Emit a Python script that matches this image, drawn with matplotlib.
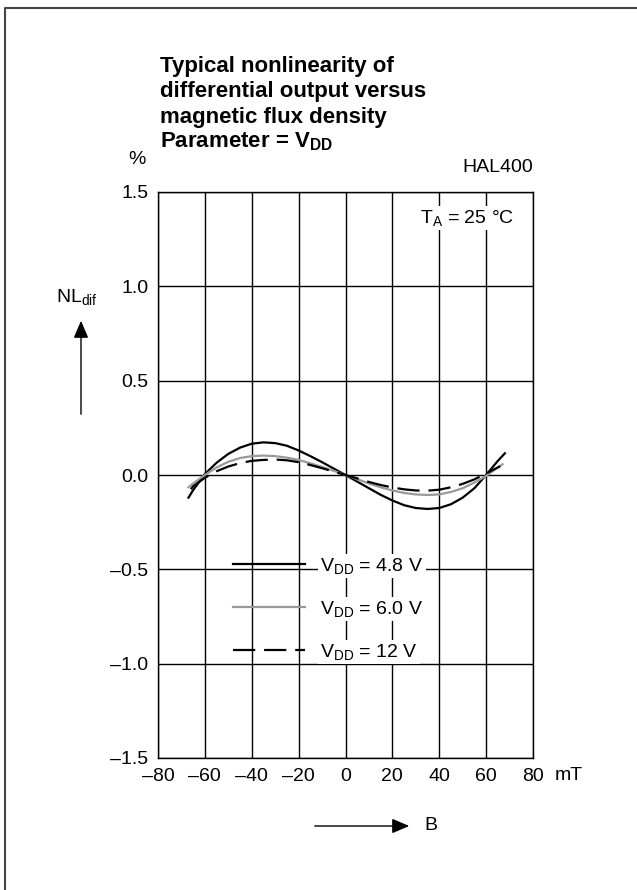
import matplotlib
matplotlib.use("Agg")
import matplotlib.pyplot as plt
import matplotlib.patches as patches
from matplotlib.lines import Line2D
from matplotlib.ticker import FuncFormatter

plt.rcParams.update({'font.family': 'Liberation Sans'})
plt.rcParams.update({'font.size': 14})
plt.rcParams.update({'mathtext.fontset': 'custom'})
plt.rcParams.update({'mathtext.rm': 'Liberation Sans'})
plt.rcParams.update({'mathtext.it': 'Liberation Sans:italic'})
plt.rcParams.update({'mathtext.bf': 'Liberation Sans:bold'})

# data
b_48 = [-67, -65, -60, -55, -50, -45, -40, -35, -30, -25, -20, -15, -10, -5, 0,
        5, 10, 15, 20, 25, 30, 35, 40, 45, 50, 55, 60, 65, 68]
nl_48 = [-0.12, -0.08, 0.005, 0.065, 0.112, 0.145, 0.166, 0.173, 0.169, 0.155, 0.13,
         0.10, 0.068, 0.034, 0.0, -0.035, -0.07, -0.105, -0.135, -0.16, -0.175,
         -0.18, -0.175, -0.155, -0.12, -0.07, 0.0, 0.075, 0.115]

b_60 = [-67, -65, -60, -55, -50, -45, -40, -35, -30, -25, -20, -15, -10, -5, 0,
        5, 10, 15, 20, 25, 30, 35, 40, 45, 50, 55, 60, 65, 67]
nl_60 = [-0.065, -0.045, 0.0, 0.04, 0.07, 0.09, 0.10, 0.103, 0.10, 0.092, 0.08,
         0.062, 0.043, 0.022, 0.0, -0.022, -0.045, -0.065, -0.082, -0.095,
         -0.103, -0.106, -0.103, -0.09, -0.07, -0.04, -0.005, 0.04, 0.057]

b_12 = [-66, -65, -60, -55, -50, -45, -40, -35, -30, -25, -20, -15, -10, -5, 0,
        5, 10, 15, 20, 25, 30, 35, 40, 45, 50, 55, 60, 65, 66]
nl_12 = [-0.075, -0.06, -0.015, 0.02, 0.045, 0.063, 0.075, 0.08, 0.082, 0.078,
         0.068, 0.053, 0.036, 0.018, 0.0, -0.018, -0.037, -0.053, -0.066, -0.076,
         -0.082, -0.083, -0.078, -0.065, -0.047, -0.023, 0.008, 0.04, 0.047]

labels = [r'$\mathregular{V_{DD}}$ = 4.8 V', r'$\mathregular{V_{DD}}$ = 6.0 V',
          r'$\mathregular{V_{DD}}$ = 12 V']
xticks = [-80, -60, -40, -20, 0, 20, 40, 60, 80]
yticks = [-1.5, -1.0, -0.5, 0.0, 0.5, 1.0, 1.5]
title_lines = ['Typical nonlinearity of', 'differential output versus',
               'magnetic flux density', r'Parameter = $\mathbf{V_{DD}}$']

W, H = 637, 890
fig = plt.figure(figsize=(W / 100, H / 100), dpi=100, facecolor="white")


def fx(px):
    return px / W


def fy(py):
    return 1 - py / H


ax = fig.add_axes([fx(158), fy(758), fx(533) - fx(158), fy(192) - fy(758)])

ax.plot(b_48, nl_48, '-', color='black', lw=1.6, label=labels[0])
ax.plot(b_60, nl_60, '-', color='#999999', lw=1.6, label=labels[1])
ax.plot(b_12, nl_12, '--', color='black', lw=1.6, dashes=(10, 4), label=labels[2])

ax.set_xlim(-80, 80)
ax.set_ylim(-1.5, 1.5)
ax.set_xticks(xticks)
ax.set_yticks(yticks)
ax.xaxis.set_major_formatter(FuncFormatter(lambda v, p: ('%d' % v).replace('-', '\u2013')))
ax.yaxis.set_major_formatter(FuncFormatter(lambda v, p: ('%.1f' % v).replace('-', '\u2013')))
ax.tick_params(length=0, pad=7, labelsize=14)
ax.grid(True, color='black', lw=1.0)
ax.set_axisbelow(True)
for s in ax.spines.values():
    s.set_linewidth(1.0)

leg = ax.legend(loc='upper left', bbox_to_anchor=(0.2, 0.357), frameon=False,
                handlelength=3.7, handletextpad=0.8, labelspacing=1.18,
                borderpad=0, borderaxespad=0, fontsize=14)
for t in leg.get_texts():
    t.set_bbox(dict(facecolor='white', edgecolor='none', pad=1.5))

# annotations
fig.text(fx(420), fy(218), r'$\mathregular{T_A}$ = 25 °C', fontsize=14, va='center',
         ha='left', bbox=dict(facecolor='white', edgecolor='none', pad=1.5))
fig.text(fx(533), fy(168), 'HAL400', fontsize=14, va='center', ha='right')
fig.text(fx(137), fy(159), '%', fontsize=14, va='center', ha='center')
fig.text(fx(56), fy(297), r'$\mathregular{NL_{dif}}$', fontsize=14, va='center', ha='left')
fig.text(fx(569), fy(775), 'mT', fontsize=14, va='center', ha='center')
fig.text(fx(424), fy(826), 'B', fontsize=14, va='center', ha='left')

for i, line in enumerate(title_lines):
    fig.text(fx(160), fy(72 + 25.3 * i), line, fontsize=16, fontweight='bold',
             va='baseline', ha='left')

# arrows
fig.patches.append(patches.FancyArrowPatch(
    (fx(81), fy(417)), (fx(81), fy(318)), transform=fig.transFigure,
    arrowstyle='-|>,head_length=7,head_width=3', color='black', lw=1.0, mutation_scale=1.5))
fig.patches.append(patches.FancyArrowPatch(
    (fx(312), fy(826)), (fx(412), fy(826)), transform=fig.transFigure,
    arrowstyle='-|>,head_length=7,head_width=3', color='black', lw=1.0, mutation_scale=1.5))

# page frame (top and left edges)
fig.lines.append(Line2D([fx(5), fx(5), 1.0], [0.0, fy(8), fy(8)], transform=fig.transFigure,
                        color='#444444', lw=1.5))

plt.savefig("out.png", dpi=100, facecolor="white")
plt.close('all')
